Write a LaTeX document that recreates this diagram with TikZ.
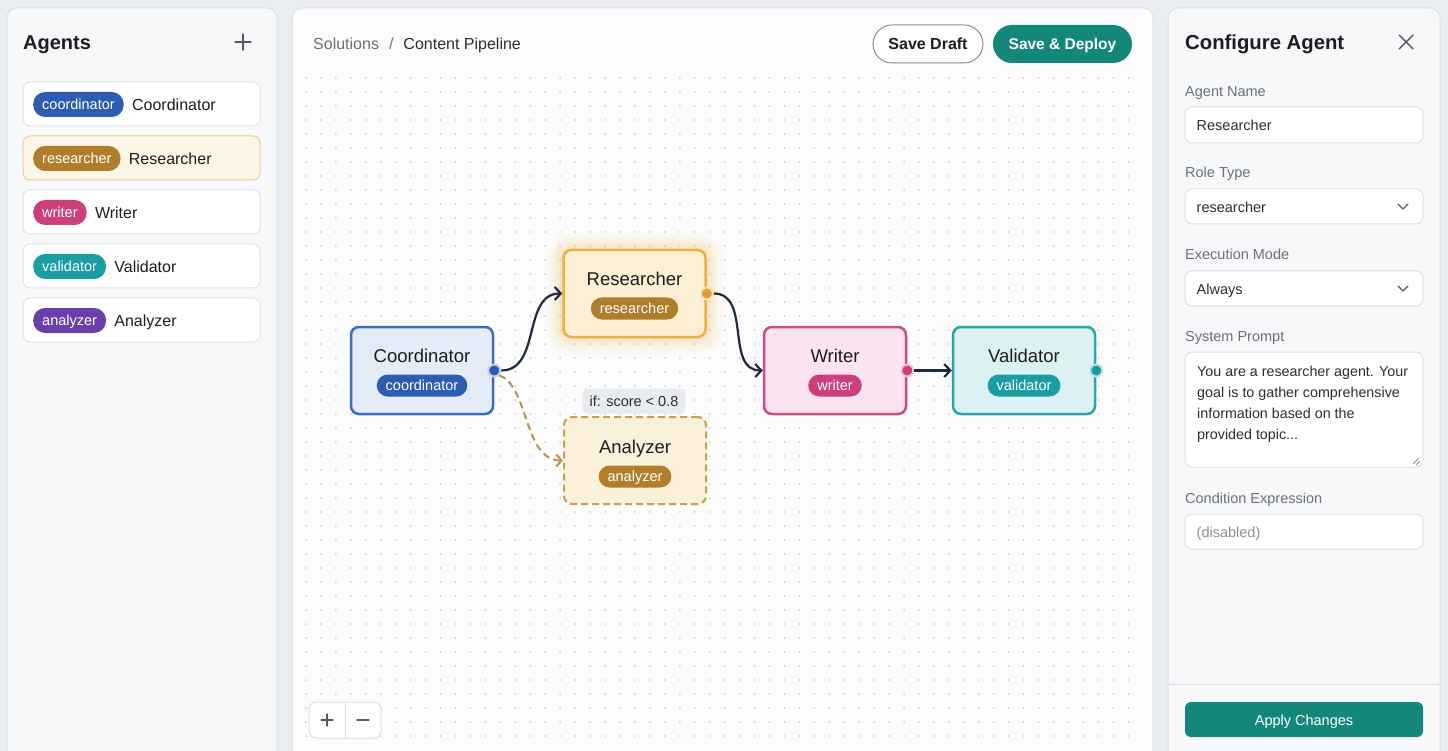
\documentclass[tikz,border=0pt]{standalone}
\usepackage{fontspec}
\setmainfont{Liberation Sans}
\usetikzlibrary{arrows.meta}

% page and panel colours
\definecolor{pagebg}{HTML}{EAEEF3}
\definecolor{sidebg}{HTML}{F7F8FA}
\definecolor{canvasbg}{HTML}{FCFCFD}
\definecolor{panelline}{HTML}{DCE0E6}
\definecolor{cardline}{HTML}{E0E3E8}
\definecolor{dotgray}{HTML}{CACDD3}
\definecolor{ink}{HTML}{1B1D21}
\definecolor{softink}{HTML}{2B2E34}
\definecolor{labelgray}{HTML}{6B7079}
\definecolor{mutedgray}{HTML}{8C9098}
\definecolor{iconsgray}{HTML}{55595F}
\definecolor{teal}{HTML}{13887A}
% role colours
\definecolor{coordline}{HTML}{3A6CC0}
\definecolor{coordfill}{HTML}{E4ECF8}
\definecolor{coordpill}{HTML}{2C5DB0}
\definecolor{resline}{HTML}{E9B048}
\definecolor{resglow}{HTML}{F4B840}
\definecolor{resfill}{HTML}{FCEFD3}
\definecolor{respill}{HTML}{B07D2B}
\definecolor{resport}{HTML}{E0A030}
\definecolor{writline}{HTML}{C94C87}
\definecolor{writfill}{HTML}{FAE4EF}
\definecolor{writpill}{HTML}{CC3F7C}
\definecolor{valline}{HTML}{2AA5AA}
\definecolor{valfill}{HTML}{DCF1F2}
\definecolor{valpill}{HTML}{1A9EA3}
\definecolor{anaLine}{HTML}{C9A050}
\definecolor{anafill}{HTML}{FBF0D9}
\definecolor{anapill}{HTML}{B07E2D}
\definecolor{anapurple}{HTML}{6B3FA8}
\definecolor{edgeink}{HTML}{1F2B3D}
\definecolor{condedge}{HTML}{B8934A}
\definecolor{condbg}{HTML}{E8ECF0}
\definecolor{hilitefill}{HTML}{FDF6E6}
\definecolor{hiliteline}{HTML}{EDCF8F}

\newcommand{\fsz}[1]{\fontsize{#1}{#1}\selectfont}

\begin{document}
\begin{tikzpicture}[x=1pt,y=-1pt,
  panel/.style={draw=panelline,line width=1pt,rounded corners=10pt},
  card/.style={draw=cardline,fill=white,line width=1pt,rounded corners=7pt,
    minimum width=237pt,minimum height=44pt,inner sep=0pt},
  pill/.style={text=white,rounded corners=12pt,inner xsep=9pt,inner ysep=0pt,
    minimum height=25pt,font=\fsz{14.5},text height=12pt,text depth=1.5pt},
  npill/.style={pill,rounded corners=11pt,minimum height=22pt},
  cardtext/.style={anchor=west,inner sep=0pt,text=ink,font=\fsz{16},
    text height=11.5pt,text depth=3.5pt,yshift=-2pt},
  agent/.style={minimum width=142pt,minimum height=87pt,rounded corners=8pt,
    line width=2.5pt,inner sep=0pt},
  agenttitle/.style={inner sep=0pt,text=ink,font=\fsz{18.5},
    text height=13.5pt,text depth=4pt,yshift=-2pt},
  port/.style={circle,minimum size=12pt,inner sep=0pt,line width=2pt},
  edge/.style={draw=edgeink,line width=2.2pt,
    -{Straight Barb[length=6pt,width=13pt,line width=2.2pt]}},
  condedgestyle/.style={draw=condedge,line width=2pt,dash pattern=on 7pt off 4.5pt,
    -{Straight Barb[length=5.5pt,width=12pt,line width=2pt]}},
  heading/.style={anchor=west,inner sep=0pt,text=ink,font=\bfseries\fsz{20},
    text height=14.5pt,text depth=4.2pt,yshift=-2.5pt},
  fieldlabel/.style={anchor=west,inner sep=0pt,text=labelgray,font=\fsz{14.5},
    text height=10.5pt,text depth=3pt,yshift=-2pt},
  field/.style={draw=panelline,fill=white,line width=1pt,rounded corners=7pt,
    minimum width=238pt,inner sep=0pt},
  fieldtext/.style={anchor=west,inner sep=0pt,text=softink,font=\fsz{14.5},
    text height=10.5pt,text depth=3pt,yshift=-2pt},
  button/.style={inner sep=0pt,text height=12.5pt,text depth=1.5pt},
  icon/.style={draw=iconsgray,line width=1.4pt,line cap=round},
  chev/.style={draw=iconsgray,line width=1.2pt,line cap=round,line join=round}
]
\clip (0,0) rectangle (1448,751);
\fill[pagebg] (0,0) rectangle (1448,751);

% ---------- three panels ----------
\draw[panel,fill=sidebg] (7,8) rectangle (277,775);
\draw[panel,fill=canvasbg] (292,8) rectangle (1153,775);
\draw[panel,fill=sidebg] (1168,8) rectangle (1440,775);

% ---------- agent list ----------
\node[heading] (agentshead) at (23,42) {Agents};
\draw[icon] (235,42) -- (251,42) (243,34) -- (243,50);

\node[card] (c1) at (141.5,104) {};
\node[card,fill=hilitefill,draw=hiliteline] (c2) at (141.5,158) {};
\node[card] (c3) at (141.5,212) {};
\node[card] (c4) at (141.5,266) {};
\node[card] (c5) at (141.5,320) {};

\node[pill,fill=coordpill,anchor=west] (p1) at (33,104.5) {coordinator};
\node[cardtext] at ([xshift=8pt]p1.east) {Coordinator};
\node[pill,fill=respill,anchor=west] (p2) at (33,158.5) {researcher};
\node[cardtext] at ([xshift=8pt]p2.east) {Researcher};
\node[pill,fill=writpill,anchor=west] (p3) at (33,212.5) {writer};
\node[cardtext] at ([xshift=8pt]p3.east) {Writer};
\node[pill,fill=valpill,anchor=west] (p4) at (33,266.5) {validator};
\node[cardtext] at ([xshift=8pt]p4.east) {Validator};
\node[pill,fill=anapurple,anchor=west] (p5) at (33,320.5) {analyzer};
\node[cardtext] at ([xshift=8pt]p5.east) {Analyzer};

% ---------- canvas: dot grid ----------
\foreach \i in {0,...,55} {
  \foreach \j in {0,...,47} {
    \fill[dotgray] (306+14.95*\i,78+14*\j) circle (1pt);
  }
}

% ---------- canvas header ----------
\node[anchor=west,inner sep=0pt,font=\fsz{16},text=softink,
  text height=11.5pt,text depth=3.5pt,yshift=-2pt] (crumb) at (313,44)
  {{\color{labelgray}Solutions\hspace{10pt}/\hspace{10pt}}Content Pipeline};
\node[button,draw=mutedgray,fill=white,line width=1pt,rounded corners=19pt,
  minimum width=110pt,minimum height=38pt,
  font=\bfseries\fsz{16},text=ink] (draft) at (928,44) {Save Draft};
\node[button,fill=teal,rounded corners=19pt,minimum width=139pt,minimum height=38pt,
  font=\bfseries\fsz{15.5},text=white] (deploy) at (1062.5,44)
  {Save \& Deploy};

% ---------- pipeline nodes ----------
% soft glow around the selected agent
\foreach \g/\o in {18/0.025,15/0.035,12/0.045,9/0.06,6/0.08,3/0.1} {
  \fill[resglow,opacity=\o,rounded corners=8pt+\g pt]
    (563-\g,250-\g) rectangle (706+\g,337+\g);
}

\node[agent,draw=coordline,fill=coordfill] (coord) at (422,370.5) {};
\node[agenttitle] at (422,356) {Coordinator};
\node[npill,fill=coordpill] at (422,385.5) {coordinator};

\node[agent,draw=resline,fill=resfill] (res) at (634.5,293.5) {};
\node[agenttitle] at (634.5,279) {Researcher};
\node[npill,fill=respill] at (634.5,308.5) {researcher};

\node[agent,draw=writline,fill=writfill] (writ) at (835,370.5) {};
\node[agenttitle] at (835,356) {Writer};
\node[npill,fill=writpill] at (835,385.5) {writer};

\node[agent,draw=valline,fill=valfill] (val) at (1024,370.5) {};
\node[agenttitle] at (1024,356) {Validator};
\node[npill,fill=valpill] at (1024,385.5) {validator};

\node[agent,draw=anaLine,fill=anafill,line width=2pt,
  dash pattern=on 7pt off 4pt] (ana) at (635,460.5) {};
\node[agenttitle] at (635,447) {Analyzer};
\node[npill,fill=anapill] at (635,476.5) {analyzer};

\node[fill=condbg,rounded corners=4pt,minimum height=25pt,inner xsep=7pt,
  inner ysep=0pt,font=\fsz{14.5},text=softink,text height=12pt,
  text depth=1.5pt] (cond) at (634,401) {if: score < 0.8};

% output ports
\node[port,fill=coordpill,draw=coordline!30] (coordp) at (coord.east) {};
\node[port,fill=resport,draw=resline!35] (resp) at (res.east) {};
\node[port,fill=writpill,draw=writline!30] (writp) at (writ.east) {};
\node[port,fill=valpill,draw=valline!30] (valp) at (val.east) {};

% ---------- connectors ----------
\draw[edge] (coordp.east) .. controls +(40,0) and +(-40,0) .. (res.west);
\draw[edge] (resp.east) .. controls +(38,0) and +(-38,0) .. (writ.west);
\draw[edge] (writp.east) -- (val.west);
\draw[condedgestyle] (coordp.south east) .. controls +(30,10) and +(-40,0) .. (ana.west);

% ---------- zoom controls ----------
\node[draw=panelline,fill=white,line width=1pt,rounded corners=7pt,
  minimum width=72pt,minimum height=36pt,inner sep=0pt] (zoomctl) at (345,720) {};
\draw[draw=panelline,line width=1pt] (zoomctl.north) -- (zoomctl.south);
\draw[icon,line width=1.2pt] (321,720) -- (333,720) (327,714) -- (327,726);
\draw[icon,line width=1.2pt] (357,720) -- (369,720);

% ---------- configuration panel ----------
\node[heading,font=\bfseries\fsz{20.3}] (confhead) at (1185,42) {Configure Agent};
\draw[icon] (1399,35) -- (1413,49) (1413,35) -- (1399,49);

\node[fieldlabel] at (1185,91) {Agent Name};
\node[field,minimum height=36pt] (fname) at (1304,125) {};
\node[fieldtext] at ([xshift=12pt]fname.west) {Researcher};

\node[fieldlabel] at (1185,172) {Role Type};
\node[field,minimum height=35pt] (frole) at (1304,206.5) {};
\node[fieldtext] at ([xshift=12pt]frole.west) {researcher};
\draw[chev] (1398,204) -- (1403,209) -- (1408,204);

\node[fieldlabel] at (1185,254) {Execution Mode};
\node[field,minimum height=35pt] (fmode) at (1304,288.5) {};
\node[fieldtext] at ([xshift=12pt]fmode.west) {Always};
\draw[chev] (1398,286) -- (1403,291) -- (1408,286);

\node[fieldlabel] at (1185,336) {System Prompt};
\node[field,minimum height=115pt] (fprompt) at (1304,409.5) {};
\node[anchor=north west,inner sep=0pt,align=left,text=softink,
  font=\fontsize{14.3}{21}\selectfont] (prompttext) at (1197,366)
  {You are a researcher agent. Your\\goal is to gather comprehensive\\information based on the\\provided topic...};
\draw[draw=mutedgray,line width=0.8pt] (1413,464) -- (1419,458) (1416,465) -- (1420,461);

\node[fieldlabel] at (1185,498) {Condition Expression};
\node[field,minimum height=35pt] (fcond) at (1304,531.5) {};
\node[fieldtext,text=mutedgray] at ([xshift=12pt]fcond.west) {(disabled)};

\draw[draw=panelline,line width=1pt] (1168,684) -- (1440,684);
\node[button,fill=teal,rounded corners=6pt,minimum width=238pt,minimum height=35pt,
  font=\fsz{14.5},text=white] (apply) at (1304,719.5) {Apply Changes};
\end{tikzpicture}
\end{document}
